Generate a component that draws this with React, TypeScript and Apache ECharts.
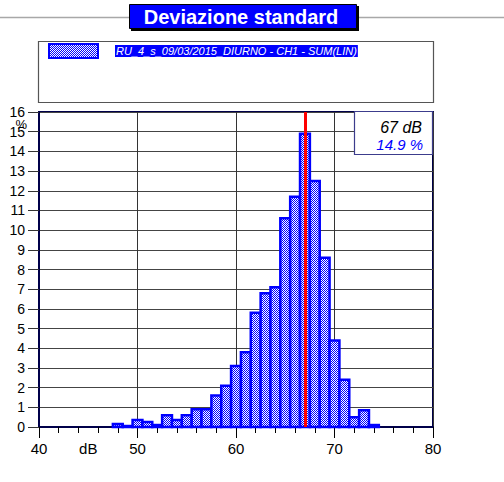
import React, { useEffect, useRef } from 'react';
import * as echarts from 'echarts';

// Histogram bins (dB, centre of each 1 dB class) and percentages
const binCentersDb = [48, 49, 50, 51, 52, 53, 54, 55, 56, 57, 58, 59, 60, 61, 62, 63, 64, 65, 66, 67, 68, 69, 70, 71, 72, 73, 74];
const percentages = [0.15, 0.05, 0.35, 0.25, 0.1, 0.6, 0.35, 0.6, 0.9, 0.9, 1.6, 2.1, 3.1, 3.8, 5.8, 6.8, 7.1, 10.6, 11.7, 14.9, 12.5, 8.6, 4.4, 2.4, 0.5, 0.85, 0.1];
const seriesName = 'RU_4_s_09/03/2015_DIURNO - CH1 - SUM(LIN)';
const chartTitle = 'Deviazione standard';
const xUnitLabel = 'dB';
const yUnitLabel = '%';
const xMin = 40;
const xMax = 80;
const yMin = 0;
const yMax = 16;

const FONT = '"Liberation Sans", Arial, sans-serif';

function makePattern() {
  const c = document.createElement('canvas');
  c.width = 2;
  c.height = 2;
  const ctx = c.getContext('2d')!;
  ctx.fillStyle = '#ffffff';
  ctx.fillRect(0, 0, 2, 2);
  ctx.fillStyle = '#0000ff';
  ctx.fillRect(0, 0, 1, 1);
  ctx.fillRect(1, 1, 1, 1);
  return { image: c.toDataURL(), repeat: 'repeat', imageWidth: 2, imageHeight: 2 } as any;
}

export default function App() {
  const ref = useRef<HTMLDivElement>(null);
  useEffect(() => {
    if (!ref.current) return;
    const chart = echarts.init(ref.current, undefined, { renderer: 'svg' });
    const pattern = makePattern();
    const data = binCentersDb.map((x, i) => [x, percentages[i]]);
    let modeIdx = 0;
    percentages.forEach((p, i) => { if (p > percentages[modeIdx]) modeIdx = i; });
    const modeDb = binCentersDb[modeIdx];
    const modePct = percentages[modeIdx];

    chart.setOption({
      animation: false,
      backgroundColor: '#ffffff',
      textStyle: { fontFamily: FONT },
      grid: {
        left: 39, right: 71, top: 112, bottom: 55,
        show: true, borderColor: '#00004a', borderWidth: 2, backgroundColor: 'transparent',
      },
      legend: {
        left: 48, top: 43, padding: 0,
        itemWidth: 49, itemHeight: 14,
        data: [{ name: seriesName, icon: 'rect', itemStyle: { color: pattern, borderColor: '#0000ff', borderWidth: 2 } }],
        formatter: '{g| }{t|{name}}',
        textStyle: {
          fontFamily: FONT, fontSize: 11, fontStyle: 'italic',
          rich: {
            g: { width: 12 },
            t: { color: '#ffffff', backgroundColor: '#0000ff', fontStyle: 'italic', fontSize: 11, lineHeight: 12, fontFamily: FONT, padding: [0, 1, 1, 1] },
          },
        },
        selectedMode: false,
      },
      xAxis: [
        {
          type: 'value', min: xMin, max: xMax, interval: 10,
          axisLine: { show: true, lineStyle: { color: '#00004a', width: 2 } },
          axisTick: { show: true, length: 11, lineStyle: { color: '#000' } },
          minorTick: { show: true, splitNumber: 5, length: 6, lineStyle: { color: '#000' } },
          axisLabel: { fontSize: 15, color: '#000', margin: 14, fontFamily: FONT },
          splitLine: { show: true, lineStyle: { color: '#333', width: 1 } },
        },
        {
          type: 'value', min: xMin, max: xMax, interval: 5, position: 'bottom',
          axisLine: { show: false }, axisTick: { show: false }, splitLine: { show: false },
          axisLabel: {
            fontSize: 15, color: '#000', margin: 14, fontFamily: FONT,
            formatter: (v: number) => (v === 45 ? xUnitLabel : ''),
          },
        },
      ],
      yAxis: {
        type: 'value', min: yMin, max: yMax, interval: 1,
        axisLine: { show: true, lineStyle: { color: '#00004a', width: 2 } },
        axisTick: { show: true, length: 11, lineStyle: { color: '#333' } },
        axisLabel: { fontSize: 14, color: '#000', margin: 14, fontFamily: FONT },
        splitLine: { show: true, lineStyle: { color: '#444', width: 1 } },
      },
      series: [
        {
          name: seriesName,
          type: 'custom',
          xAxisIndex: 0,
          data,
          encode: { x: 0, y: 1 },
          itemStyle: { color: '#0000ff' },
          renderItem: (params: any, api: any) => {
            const x = api.value(0);
            const y = api.value(1);
            const p0 = api.coord([x - 0.5, y]);
            const p1 = api.coord([x + 0.5, 0]);
            return {
              type: 'rect',
              shape: { x: p0[0], y: p0[1], width: p1[0] - p0[0], height: p1[1] - p0[1] },
              style: { fill: pattern, stroke: '#0000ff', lineWidth: 2.5 },
            };
          },
          z: 2,
        },
        {
          name: 'mode',
          type: 'line',
          data: [],
          z: 5,
          markLine: {
            silent: true,
            symbol: 'none',
            label: { show: false },
            lineStyle: { color: '#ff0000', width: 3, type: 'solid' },
            data: [{ xAxis: modeDb }],
          },
        },
      ],
      graphic: [
        { type: 'line', shape: { x1: 0, y1: 17.5, x2: 504, y2: 17.5 }, style: { stroke: '#a8a8a8', lineWidth: 1.5 }, z: 1 },
        { type: 'rect', shape: { x: 131, y: 6, width: 228, height: 25 }, style: { fill: '#000000' }, z: 2 },
        { type: 'rect', shape: { x: 129.5, y: 4.5, width: 227, height: 24 }, style: { fill: '#0000ff', stroke: '#000', lineWidth: 1 }, z: 3 },
        {
          type: 'text', x: 241, y: 17, z: 4,
          style: { text: chartTitle, fill: '#ffffff', font: `bold 20px ${FONT}`, textAlign: 'center', textVerticalAlign: 'middle' },
        },
        { type: 'rect', shape: { x: 38.5, y: 41.5, width: 395, height: 61 }, style: { fill: 'none', stroke: '#555', lineWidth: 1.2 }, z: 1 },
        {
          type: 'text', x: 27, y: 124, z: 10,
          style: { text: yUnitLabel, fill: '#000', font: `13px ${FONT}`, textAlign: 'right', textVerticalAlign: 'middle' },
        },
        { type: 'rect', shape: { x: 354.5, y: 111.5, width: 78, height: 43 }, style: { fill: '#ffffff', stroke: '#3c3c8c', lineWidth: 1.2 }, z: 100 },
        {
          type: 'text', x: 422, y: 127, z: 101,
          style: { text: `${modeDb} dB`, fill: '#000', font: `italic 16px ${FONT}`, textAlign: 'right', textVerticalAlign: 'middle' },
        },
        {
          type: 'text', x: 423, y: 144, z: 101,
          style: { text: `${modePct.toFixed(1)} %`, fill: '#0000ff', font: `italic 15px ${FONT}`, textAlign: 'right', textVerticalAlign: 'middle' },
        },
      ],
    });
    return () => chart.dispose();
  }, []);
  return <div ref={ref} style={{ position: 'fixed', left: 0, top: 0, width: 504, height: 482 }} />;
}
